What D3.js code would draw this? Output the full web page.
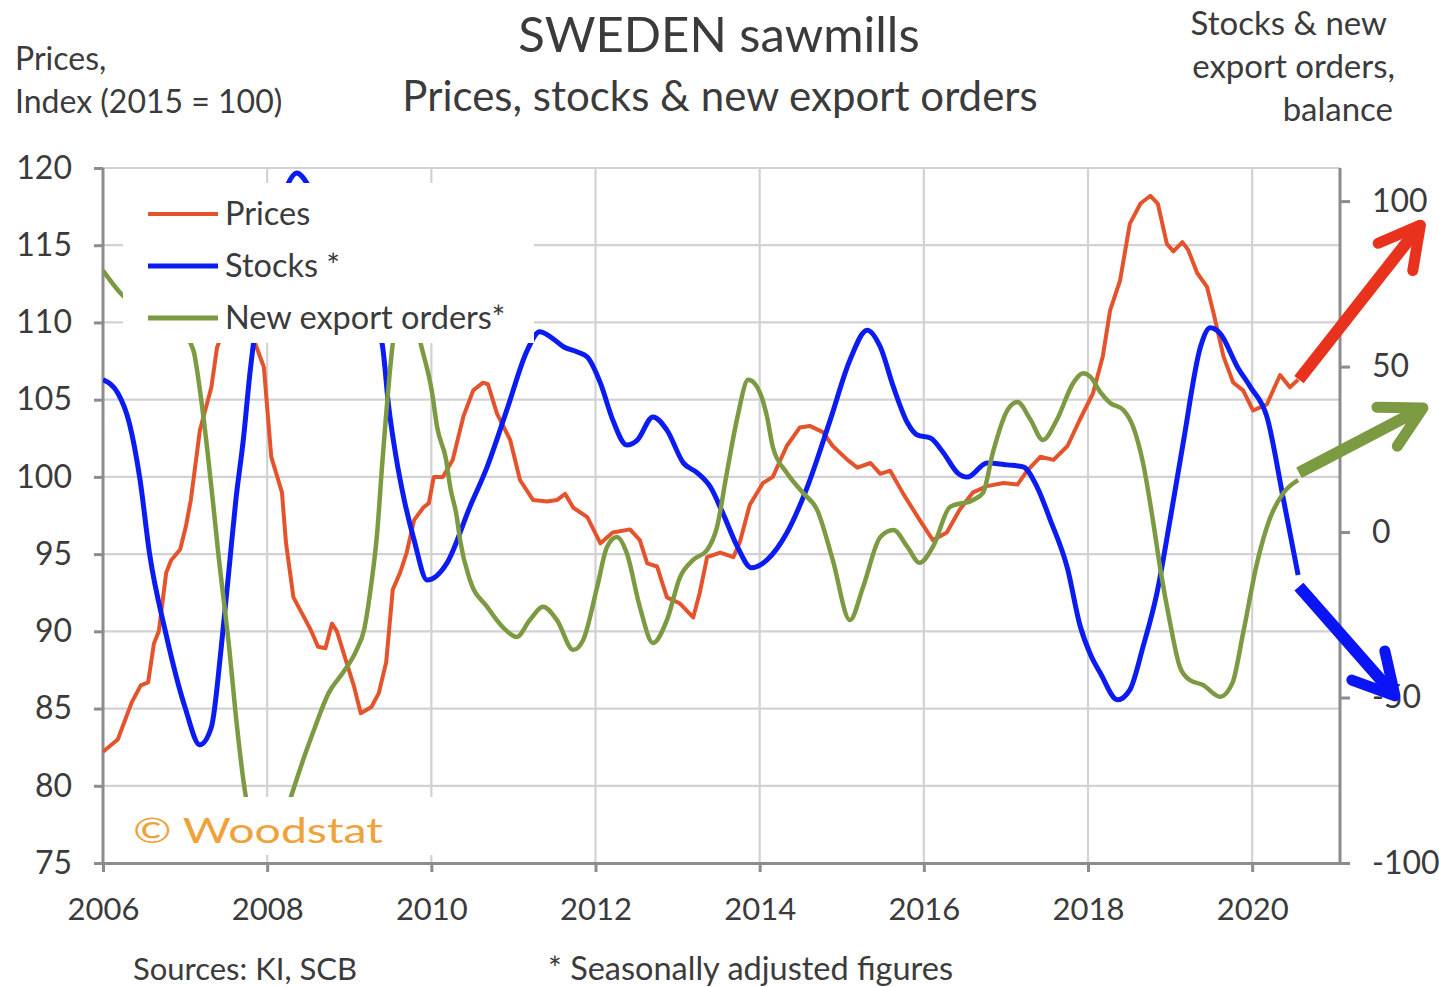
<!DOCTYPE html>
<html><head><meta charset="utf-8">
<script src="https://cdn.jsdelivr.net/npm/d3@7"></script>
<style>
html,body{margin:0;padding:0;background:#fff;}
svg{display:block;}
text{font-family:Lato,"Open Sans",sans-serif;fill:#3b3b3b;}
</style>
</head><body>
<svg id="c" width="1439" height="987"></svg>
<script>
// ---- data (year, value) ----
const priceData = [[2006.00,82.2],[2006.18,83.0],[2006.35,85.4],[2006.46,86.5],[2006.55,86.7],[2006.62,89.2],[2006.68,90.0],[2006.77,93.8],[2006.83,94.6],[2006.94,95.3],[2007.01,96.8],[2007.07,98.5],[2007.18,103.0],[2007.32,105.8],[2007.39,108.4],[2007.62,111.5],[2007.85,108.7],[2007.96,107.1],[2008.05,101.3],[2008.18,99.0],[2008.23,95.7],[2008.32,92.2],[2008.45,90.9],[2008.53,90.1],[2008.62,89.0],[2008.71,88.9],[2008.79,90.5],[2008.85,90.0],[2008.96,88.1],[2009.06,86.4],[2009.14,84.7],[2009.27,85.1],[2009.36,86.0],[2009.45,88.0],[2009.53,92.7],[2009.62,93.8],[2009.70,95.1],[2009.79,97.2],[2009.90,98.0],[2009.97,98.3],[2010.03,100.0],[2010.14,100.0],[2010.26,101.1],[2010.39,103.9],[2010.51,105.6],[2010.63,106.1],[2010.69,106.0],[2010.80,104.1],[2010.96,102.4],[2011.08,99.8],[2011.24,98.5],[2011.41,98.4],[2011.53,98.5],[2011.63,98.9],[2011.73,98.0],[2011.90,97.4],[2012.06,95.7],[2012.21,96.4],[2012.42,96.6],[2012.54,95.9],[2012.63,94.4],[2012.75,94.2],[2012.87,92.2],[2013.03,91.8],[2013.19,90.9],[2013.27,92.5],[2013.36,94.8],[2013.52,95.1],[2013.68,94.8],[2013.76,95.8],[2013.88,98.2],[2014.04,99.6],[2014.16,100.0],[2014.33,102.0],[2014.49,103.2],[2014.61,103.3],[2014.77,102.9],[2014.89,102.0],[2015.07,101.1],[2015.19,100.6],[2015.35,100.9],[2015.47,100.2],[2015.59,100.4],[2015.75,98.9],[2015.95,97.2],[2016.11,95.9],[2016.28,96.4],[2016.44,97.9],[2016.60,99.0],[2016.77,99.4],[2016.97,99.6],[2017.14,99.5],[2017.26,100.4],[2017.42,101.3],[2017.58,101.1],[2017.75,102.0],[2017.90,103.7],[2018.06,105.4],[2018.18,107.8],[2018.27,110.8],[2018.39,112.7],[2018.51,116.4],[2018.64,117.7],[2018.76,118.2],[2018.85,117.7],[2018.96,115.1],[2019.04,114.6],[2019.15,115.2],[2019.22,114.7],[2019.33,113.2],[2019.45,112.3],[2019.53,110.6],[2019.65,107.8],[2019.77,106.1],[2019.89,105.6],[2020.01,104.3],[2020.18,104.7],[2020.34,106.6],[2020.46,105.8],[2020.56,106.3]];

const stockData = [[2006.00,46],[2006.18,42],[2006.32,33],[2006.45,16],[2006.57,-7],[2006.76,-30],[2007.00,-53],[2007.18,-64.3],[2007.32,-59],[2007.44,-35],[2007.54,-10],[2007.62,10],[2007.71,28],[2007.79,48],[2007.86,62],[2007.97,78],[2008.12,95],[2008.25,105],[2008.36,108.5],[2008.52,104],[2008.71,95],[2008.95,82],[2009.19,70],[2009.40,57],[2009.48,38],[2009.57,22.7],[2009.67,9.7],[2009.79,-2.4],[2009.95,-14.5],[2010.19,-9.4],[2010.47,7.6],[2010.68,19.7],[2010.92,36.9],[2011.17,55],[2011.32,60.5],[2011.45,59],[2011.61,56],[2011.78,54.4],[2011.90,52.9],[2012.06,45],[2012.21,33.9],[2012.38,26.3],[2012.51,27.8],[2012.70,34.8],[2012.87,30.8],[2013.07,20.9],[2013.24,17.9],[2013.40,13.6],[2013.55,5.8],[2013.73,-4.5],[2013.90,-10.8],[2014.09,-8.4],[2014.33,-0.3],[2014.58,13.6],[2014.86,33.9],[2015.10,52],[2015.31,61],[2015.47,55.9],[2015.63,43.8],[2015.80,33],[2015.92,29.3],[2016.08,28.4],[2016.24,23.9],[2016.41,17.9],[2016.53,16.6],[2016.77,20.9],[2017.02,20.3],[2017.21,19.7],[2017.38,13.6],[2017.54,3.7],[2017.75,-11],[2017.90,-28],[2018.03,-37],[2018.15,-42.6],[2018.36,-50.7],[2018.51,-47.7],[2018.67,-34.7],[2018.84,-18.4],[2019.00,3.7],[2019.16,27],[2019.37,55.9],[2019.49,61.7],[2019.61,60],[2019.82,49.9],[2019.98,43.8],[2020.18,34.8],[2020.38,10],[2020.56,-13]];

const orderData = [[2006.00,79],[2006.22,72],[2006.45,67],[2006.69,64],[2006.94,61],[2007.10,55],[2007.18,43],[2007.27,25],[2007.34,9],[2007.40,-5.4],[2007.54,-35.6],[2007.62,-55.9],[2007.74,-80],[2007.88,-93],[2008.00,-97],[2008.12,-93],[2008.29,-80],[2008.45,-68],[2008.57,-59.8],[2008.75,-48.6],[2008.92,-42.6],[2009.09,-35.6],[2009.18,-29.6],[2009.27,-15.4],[2009.34,-0.3],[2009.40,20],[2009.53,57],[2009.70,75],[2009.87,57],[2010.01,42],[2010.07,31.8],[2010.18,21.8],[2010.23,13.6],[2010.31,4.6],[2010.35,-2.4],[2010.47,-14.5],[2010.68,-22.6],[2010.87,-28.7],[2011.04,-31.7],[2011.20,-26.6],[2011.36,-22.6],[2011.53,-26.6],[2011.73,-35.6],[2011.85,-32.6],[2012.02,-16.6],[2012.14,-4.5],[2012.26,-1.5],[2012.38,-6.3],[2012.54,-22.6],[2012.70,-33.5],[2012.87,-26.6],[2013.03,-13.6],[2013.19,-8.4],[2013.36,-5.4],[2013.48,1.5],[2013.60,17.9],[2013.73,34.8],[2013.86,46],[2013.97,43.8],[2014.09,34.8],[2014.16,25.7],[2014.33,17.9],[2014.53,11.8],[2014.70,6.7],[2014.89,-8.4],[2015.10,-26.6],[2015.26,-16.6],[2015.47,-1.5],[2015.63,0.6],[2015.80,-4.5],[2015.95,-9.3],[2016.11,-4.5],[2016.32,7.6],[2016.60,9.7],[2016.72,11.8],[2016.84,23.9],[2017.02,36.9],[2017.14,39.3],[2017.30,33.9],[2017.45,27.8],[2017.62,33.9],[2017.82,45],[2017.94,48],[2018.03,46.9],[2018.15,42.3],[2018.27,39],[2018.43,36.9],[2018.55,31.8],[2018.67,20.9],[2018.79,3.7],[2018.88,-11],[2019.00,-27.5],[2019.12,-40.8],[2019.24,-44.7],[2019.40,-46.2],[2019.61,-49.8],[2019.76,-45.6],[2019.89,-30.5],[2020.06,-9.3],[2020.21,3.7],[2020.38,11.8],[2020.56,15.7]];

const leftTicks = [75,80,85,90,95,100,105,110,115,120];
const rightTicks = [-100,-50,0,50,100];
const yearTicks = [2006,2008,2010,2012,2014,2016,2018,2020];
const seriesNames = ["Prices","Stocks *","New export orders*"];
const seriesColors = ["#E4532B","#0B1CF2","#7B9A42"];
// trend arrows: [start, tip] in (year, axis value)
const priceArrow = [[2020.57,106.3],[2022.05,116.3]];
const stockArrow = [[2020.57,-16.5],[2021.74,-49.5]];
const orderArrow = [[2020.57,17.9],[2022.08,37.5]];

// ---- layout ----
const svg = d3.select("#c");
const L = 103, R = 1340, T = 168, B = 863;
const x = d3.scaleLinear().domain([2006, 2021.07]).range([L, R]);
const yL = d3.scaleLinear().domain([75, 120]).range([B, T]);
const yR = d3.scaleLinear().domain([-100, 110]).range([B, T]);
const gridColor = "#d2d2d6", axisColor = "#8c8c90";

// titles
svg.append("text").attr("x", 719).attr("y", 52).attr("text-anchor","middle").attr("font-size",49).attr("fill","#333").text("SWEDEN sawmills");
svg.append("text").attr("x", 720).attr("y", 111).attr("text-anchor","middle").attr("font-size",42).attr("fill","#333").text("Prices, stocks & new export orders");
svg.append("text").attr("x", 15).attr("y", 70).attr("font-size",32).text("Prices,");
svg.append("text").attr("x", 15).attr("y", 113).attr("font-size",32).text("Index (2015 = 100)");
[["Stocks & new",1387,35],["export orders,",1395,78],["balance",1393,121]].forEach(d=>{
  svg.append("text").attr("x",d[1]).attr("y",d[2]).attr("text-anchor","end").attr("font-size",33).text(d[0]);
});
svg.append("text").attr("x",133).attr("y",980).attr("font-size",31).text("Sources: KI, SCB");
svg.append("text").attr("x",548).attr("y",980).attr("font-size",32.5).text("* Seasonally adjusted figures");

// gridlines
const grid = svg.append("g");
grid.selectAll("line.h").data(leftTicks.filter(v=>v>75)).join("line")
  .attr("x1",L).attr("x2",R).attr("y1",d=>yL(d)).attr("y2",d=>yL(d))
  .attr("stroke",gridColor).attr("stroke-width",2.2);
grid.selectAll("line.v").data(yearTicks.filter(v=>v>2006)).join("line")
  .attr("x1",d=>x(d)).attr("x2",d=>x(d)).attr("y1",T).attr("y2",B)
  .attr("stroke",gridColor).attr("stroke-width",2.2);

// axes
const axL = svg.append("g").attr("transform",`translate(${L},0)`)
  .call(d3.axisLeft(yL).tickValues(leftTicks).tickSize(9).tickSizeOuter(0).tickPadding(22));
const axR = svg.append("g").attr("transform",`translate(${R},0)`)
  .call(d3.axisRight(yR).tickValues(rightTicks).tickFormat(d=>String(d)).tickSize(10).tickSizeOuter(0).tickPadding(22));
const axB = svg.append("g").attr("transform",`translate(0,${B})`)
  .call(d3.axisBottom(x).tickValues(yearTicks).tickFormat(d3.format("d")).tickSize(9).tickSizeOuter(0).tickPadding(20));
[axL,axR,axB].forEach(a=>{
  a.select(".domain").attr("stroke",axisColor).attr("stroke-width",3);
  a.selectAll(".tick line").attr("stroke",axisColor).attr("stroke-width",3);
  a.selectAll(".tick text").attr("font-size",32).attr("fill","#3b3b3b").attr("font-family","Lato, 'Open Sans', sans-serif");
});
axB.selectAll(".tick text").attr("font-size",31).attr("dy","0.9em");
axR.select(".domain").attr("d",`M0,${T}V${B}`);
axL.select(".domain").attr("d",`M0,${T}V${B}`);

// series
svg.append("clipPath").attr("id","plot").append("rect").attr("x",L).attr("y",T).attr("width",R-L).attr("height",B-T);
const gS = svg.append("g").attr("clip-path","url(#plot)");
const lineL = d3.line().x(d=>x(d[0])).y(d=>yL(d[1])).curve(d3.curveLinear);
const lineR = d3.line().x(d=>x(d[0])).y(d=>yR(d[1])).curve(d3.curveMonotoneX);
gS.append("path").datum(priceData).attr("d",lineL).attr("fill","none").attr("stroke",seriesColors[0]).attr("stroke-width",4).attr("stroke-linejoin","round");
gS.append("path").datum(stockData).attr("d",lineR).attr("fill","none").attr("stroke",seriesColors[1]).attr("stroke-width",5).attr("stroke-linejoin","round");
gS.append("path").datum(orderData).attr("d",lineR).attr("fill","none").attr("stroke",seriesColors[2]).attr("stroke-width",4.5).attr("stroke-linejoin","round");

// arrows
function arrow(pts, ys, color){
  const s = [x(pts[0][0]), ys(pts[0][1])], t = [x(pts[1][0]), ys(pts[1][1])];
  const ang = Math.atan2(t[1]-s[1], t[0]-s[0]);
  const len = 46, a = Math.PI/6.3;
  const b1 = [t[0]-len*Math.cos(ang-a), t[1]-len*Math.sin(ang-a)];
  const b2 = [t[0]-len*Math.cos(ang+a), t[1]-len*Math.sin(ang+a)];
  const e = [t[0]-6*Math.cos(ang), t[1]-6*Math.sin(ang)];
  svg.append("path").attr("d",`M${s[0]},${s[1]}L${e[0]},${e[1]}`).attr("stroke",color).attr("stroke-width",12).attr("fill","none");
  svg.append("path").attr("d",`M${b1[0]},${b1[1]}L${t[0]},${t[1]}L${b2[0]},${b2[1]}`).attr("stroke",color).attr("stroke-width",11).attr("fill","none").attr("stroke-linejoin","round").attr("stroke-linecap","round");
}
arrow(priceArrow, yL, "#E8321E");
arrow(orderArrow, yR, "#7B9A42");
arrow(stockArrow, yR, "#0A14F5");

// legend
svg.append("rect").attr("x",123).attr("y",183).attr("width",411).attr("height",160).attr("fill","#fff");
seriesNames.forEach((n,i)=>{
  const yy = 214 + i*52;
  svg.append("line").attr("x1",148).attr("x2",218).attr("y1",yy).attr("y2",yy).attr("stroke",seriesColors[i]).attr("stroke-width",i===0?4:5);
  svg.append("text").attr("x",225).attr("y",yy).attr("dy","0.35em").attr("font-size",32.5).text(n);
});

// watermark
svg.append("rect").attr("x",106).attr("y",797).attr("width",330).attr("height",58).attr("fill","#fff");
svg.append("text").attr("x",133).attr("y",843).attr("font-size",34).style("fill","#F0A23A")
  .attr("textLength",250).attr("lengthAdjust","spacingAndGlyphs").text("© Woodstat");
</script>
</body></html>
